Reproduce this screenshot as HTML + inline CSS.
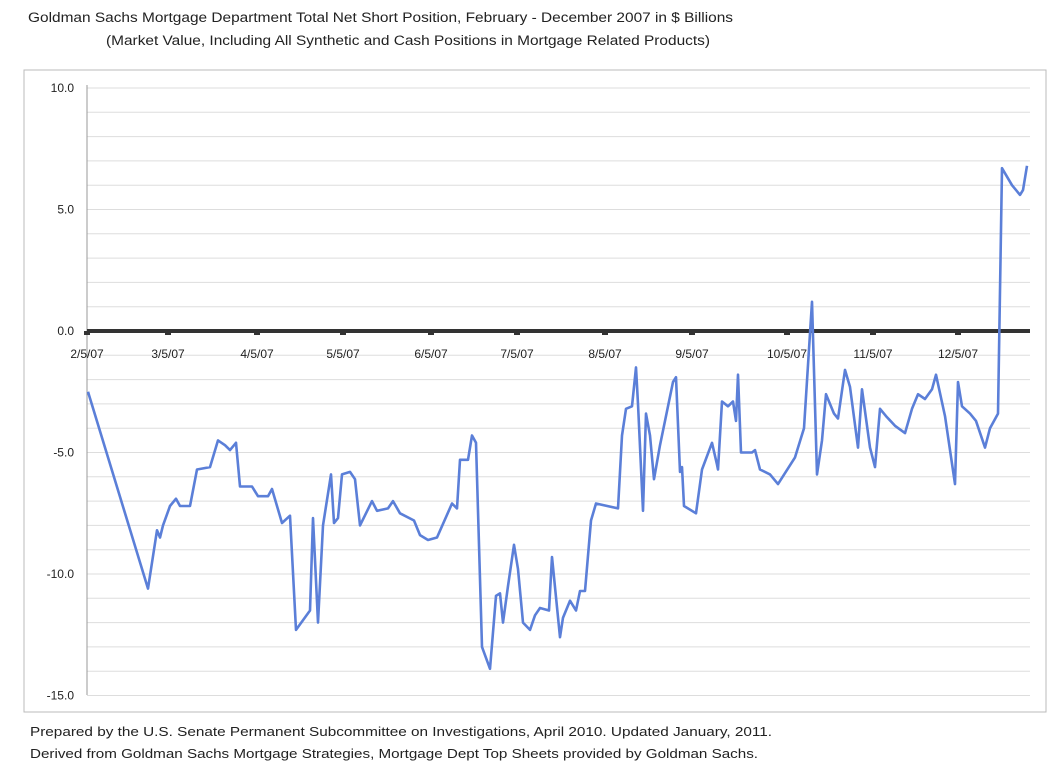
<!DOCTYPE html>
<html><head><meta charset="utf-8"><style>
body{margin:0;background:#fff;width:1053px;height:770px;overflow:hidden;font-family:"Liberation Sans",sans-serif}
</style></head><body>
<svg width="1053" height="770" xmlns="http://www.w3.org/2000/svg" font-family="Liberation Sans, sans-serif">
<text x="28" y="22" font-size="13.5" fill="#222" textLength="705" lengthAdjust="spacingAndGlyphs">Goldman Sachs Mortgage Department Total Net Short Position, February - December 2007 in $ Billions</text>
<text x="106" y="45" font-size="13.5" fill="#222" textLength="604" lengthAdjust="spacingAndGlyphs">(Market Value, Including All Synthetic and Cash Positions in Mortgage Related Products)</text>
<rect x="24" y="70" width="1022" height="642" fill="#fff" stroke="#bbb" stroke-width="1"/>
<g id="grid" stroke="#ddd" stroke-width="1"></g>
<line x1="87" y1="85" x2="87" y2="695" stroke="#999"/>
<g id="ylab" font-size="12" fill="#222" text-anchor="end"></g>
<line x1="87" y1="331" x2="1030" y2="331" stroke="#333" stroke-width="4"/>
<g id="xt" font-size="12" fill="#222" text-anchor="middle"></g>
<polyline id="ser" fill="none" stroke="#5b7fd8" stroke-width="2.6" stroke-linejoin="round"/>
<text x="30" y="736" font-size="13" fill="#222" textLength="742" lengthAdjust="spacingAndGlyphs">Prepared by the U.S. Senate Permanent Subcommittee on Investigations, April 2010. Updated January, 2011.</text>
<text x="30" y="758" font-size="13" fill="#222" textLength="728" lengthAdjust="spacingAndGlyphs">Derived from Goldman Sachs Mortgage Strategies, Mortgage Dept Top Sheets provided by Goldman Sachs.</text>
</svg>
<script>
var NS="http://www.w3.org/2000/svg";
function Y(v){return 331-v*24.3;}
var g=document.getElementById('grid');
for(var v=-15;v<=10;v++){var l=document.createElementNS(NS,'line');l.setAttribute('x1',87);l.setAttribute('x2',1030);l.setAttribute('y1',Y(v));l.setAttribute('y2',Y(v));g.appendChild(l);}
var yl=document.getElementById('ylab');
[10,5,0,-5,-10,-15].forEach(function(v){var t=document.createElementNS(NS,'text');t.setAttribute('x',74);t.setAttribute('y',Y(v)+4);t.textContent=v.toFixed(1);yl.appendChild(t);});
var xt=document.getElementById('xt');
[[87,'2/5/07'],[168,'3/5/07'],[257,'4/5/07'],[343,'5/5/07'],[431,'6/5/07'],[517,'7/5/07'],[605,'8/5/07'],[692,'9/5/07'],[787,'10/5/07'],[873,'11/5/07'],[958,'12/5/07']].forEach(function(a){
var r=document.createElementNS(NS,'rect');r.setAttribute('x',a[0]-3);r.setAttribute('y',331);r.setAttribute('width',6);r.setAttribute('height',4);r.setAttribute('fill','#333');xt.appendChild(r);
var t=document.createElementNS(NS,'text');t.setAttribute('x',a[0]);t.setAttribute('y',358);t.textContent=a[1];xt.appendChild(t);});
var d=[88,-2.5,148,-10.6,154,-9,157,-8.2,160,-8.5,163,-8,170,-7.2,176,-6.9,180,-7.2,190,-7.2,197,-5.7,210,-5.6,218,-4.5,225,-4.7,230,-4.9,236,-4.6,240,-6.4,252,-6.4,258,-6.8,268,-6.8,272,-6.5,282,-7.9,290,-7.6,296,-12.3,310,-11.5,313,-7.7,318,-12,323,-8,331,-5.9,334,-7.9,338,-7.7,342,-5.9,350,-5.8,355,-6.1,360,-8,372,-7,377,-7.4,388,-7.3,393,-7,400,-7.5,414,-7.8,420,-8.4,428,-8.6,437,-8.5,452,-7.1,457,-7.3,460,-5.3,468,-5.3,472,-4.3,476,-4.6,482,-13,490,-13.9,496,-10.9,500,-10.8,503,-12,508,-10.5,514,-8.8,518,-9.8,523,-12,530,-12.3,535,-11.7,540,-11.4,549,-11.5,552,-9.3,560,-12.6,563,-11.8,570,-11.1,576,-11.5,580,-10.7,585,-10.7,591,-7.8,596,-7.1,618,-7.3,622,-4.3,626,-3.2,632,-3.1,636,-1.5,638,-3,643,-7.4,646,-3.4,650,-4.3,654,-6.1,660,-4.7,673,-2.1,676,-1.9,680,-5.8,682,-5.6,684,-7.2,696,-7.5,702,-5.7,712,-4.6,717,-5.5,718,-5.7,722,-2.9,728,-3.1,733,-2.9,736,-3.7,738,-1.8,741,-5,752,-5,755,-4.9,760,-5.7,770,-5.9,778,-6.3,795,-5.2,804,-4,812,1.2,817,-5.9,822,-4.5,826,-2.6,834,-3.4,838,-3.6,845,-1.6,850,-2.3,858,-4.8,862,-2.4,870,-4.8,875,-5.6,880,-3.2,886,-3.5,895,-3.9,905,-4.2,912,-3.2,918,-2.6,925,-2.8,932,-2.4,936,-1.8,945,-3.5,955,-6.3,958,-2.1,962,-3.1,970,-3.4,976,-3.7,985,-4.8,990,-4,998,-3.4,1002,6.7,1012,6,1020,5.6,1023,5.8,1027,6.8];
var p=[];for(var i=0;i<d.length;i+=2)p.push(d[i]+','+Y(d[i+1]).toFixed(1));
document.getElementById('ser').setAttribute('points',p.join(' '));
</script>
</body></html>
